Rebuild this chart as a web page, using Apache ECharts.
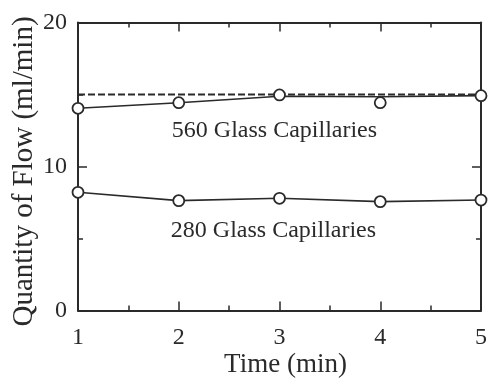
<!DOCTYPE html>
<html>
<head>
<meta charset="utf-8">
<script src="https://cdn.jsdelivr.net/npm/echarts@6/dist/echarts.min.js"></script>
<style>
  html, body { margin: 0; padding: 0; background: #fff; }
  #chart { width: 488px; height: 378px; }
</style>
</head>
<body>
<div id="chart"></div>
<script>
// Flow rate through glass-capillary bundles over time
const timeMin = [1, 2, 3, 4, 5];
const flow560 = [14.04, 14.43, 14.97, 14.43, 14.92];   // measured, 560 capillaries
const trend560 = [14.04, 14.43, 14.88, 14.84, 14.92];  // drawn trend, 560 capillaries
const flow280 = [8.21, 7.63, 7.79, 7.56, 7.67];        // measured, 280 capillaries
const nominalFlow = 15;                                 // dashed reference level
const seriesNames = ['560 Glass Capillaries', '280 Glass Capillaries'];

const INK = '#2a2a2a';
const FONT = '"Liberation Serif", "Times New Roman", serif';

const pairs = (xs, ys) => xs.map((x, i) => [x, ys[i]]);

const chart = echarts.init(document.getElementById('chart'), null, { renderer: 'canvas' });

const axisLine = { show: true, onZero: false, lineStyle: { color: INK, width: 2 } };
const tickStyle = { color: INK, width: 1.5 };

const baseX = {
  type: 'value', min: 1, max: 5, interval: 1,
  axisLine: axisLine,
  axisTick: { show: true, inside: true, length: 9, lineStyle: tickStyle },
  minorTick: { show: true, splitNumber: 2, length: 5, lineStyle: tickStyle },
  splitLine: { show: false }, minorSplitLine: { show: false }
};
const baseY = {
  type: 'value', min: 0, max: 20, interval: 10,
  axisLine: axisLine,
  axisTick: { show: true, inside: true, length: 9, lineStyle: tickStyle },
  minorTick: { show: true, splitNumber: 2, length: 5, lineStyle: tickStyle },
  splitLine: { show: false }, minorSplitLine: { show: false }
};

const marker = {
  symbol: 'circle', symbolSize: 11,
  itemStyle: { color: '#ffffff', borderColor: INK, borderWidth: 1.8, opacity: 1 }
};

chart.setOption({
  animation: false,
  backgroundColor: '#fff',
  grid: { left: 78, right: 7, top: 22.5, bottom: 67.5, outerBoundsMode: 'none', containLabel: false },
  xAxis: [
    Object.assign({}, baseX, {
      position: 'bottom',
      axisLabel: { fontFamily: FONT, fontSize: 24, color: INK, margin: 15 },
      name: 'Time (min)', nameLocation: 'middle', nameGap: 41, nameMoveOverlap: false,
      nameTextStyle: { fontFamily: FONT, fontSize: 27, color: INK, padding: [0, 0, 0, 12] }
    }),
    Object.assign({}, baseX, { position: 'top', axisLabel: { show: false } })
  ],
  yAxis: [
    Object.assign({}, baseY, {
      position: 'left',
      axisLabel: { fontFamily: FONT, fontSize: 24, color: INK, margin: 11 },
      name: 'Quantity of Flow (ml/min)', nameLocation: 'middle', nameGap: 39, nameMoveOverlap: false,
      nameTextStyle: { fontFamily: FONT, fontSize: 29, color: INK, padding: [0, 10, 0, 0] }
    }),
    Object.assign({}, baseY, { position: 'right', axisLabel: { show: false } })
  ],
  series: [
    {
      name: 'nominal', type: 'line', xAxisIndex: 0, yAxisIndex: 0,
      data: [[timeMin[0], nominalFlow], [timeMin[timeMin.length - 1], nominalFlow]],
      symbol: 'none', silent: true, z: 2,
      lineStyle: { color: INK, width: 2, type: [7, 3] }
    },
    {
      name: seriesNames[0] + ' trend', type: 'line', xAxisIndex: 0, yAxisIndex: 0,
      data: pairs(timeMin, trend560), symbol: 'none', z: 3,
      lineStyle: { color: INK, width: 1.6 }
    },
    Object.assign({
      name: seriesNames[0], type: 'scatter', xAxisIndex: 0, yAxisIndex: 0,
      data: pairs(timeMin, flow560), clip: false, z: 5
    }, marker),
    Object.assign({
      name: seriesNames[1], type: 'line', xAxisIndex: 0, yAxisIndex: 0,
      data: pairs(timeMin, flow280), showAllSymbol: true, clip: false, z: 4,
      lineStyle: { color: INK, width: 1.6 }
    }, marker),
    {
      // series captions placed in data space beneath each curve
      name: 'captions', type: 'scatter', xAxisIndex: 0, yAxisIndex: 0,
      symbolSize: 0, silent: true, z: 6,
      itemStyle: { color: INK, opacity: 1 },
      data: [
        { value: [2.95, 12.47], name: seriesNames[0] },
        { value: [2.94, 5.52], name: seriesNames[1] }
      ],
      label: {
        show: true, position: [0, 0], align: 'center', verticalAlign: 'middle',
        formatter: p => p.name,
        fontFamily: FONT, fontSize: 24, color: INK, opacity: 1,
        textBorderWidth: 0
      }
    }
  ]
});
</script>
</body>
</html>
